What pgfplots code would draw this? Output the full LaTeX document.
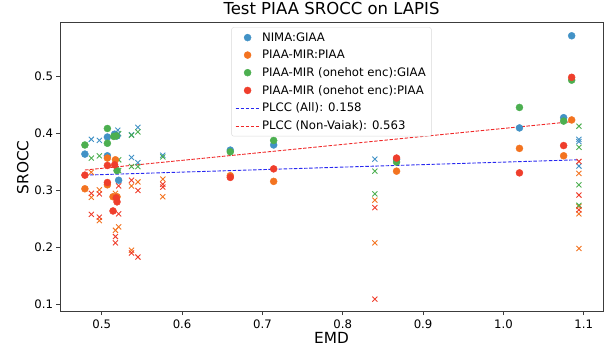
\documentclass[border=0pt]{standalone}
\usepackage{fontspec}
\setmainfont{DejaVu Sans}
\usepackage{pgfplots}
\pgfplotsset{compat=1.18}
\definecolor{cblue}{RGB}{66,146,198}
\definecolor{corange}{RGB}{243,115,32}
\definecolor{cgreen}{RGB}{76,175,80}
\definecolor{cred}{RGB}{239,62,44}
\definecolor{spine}{RGB}{60,60,60}
\definecolor{lblue}{RGB}{40,40,240}
\definecolor{lred}{RGB}{240,40,40}
\begin{document}
\begin{tikzpicture}
\begin{axis}[
  name=ax,
  scale only axis, width=543bp, height=289bp,
  xmin=0.448, xmax=1.124, ymin=0.0869, ymax=0.595,
  xtick={0.5,0.6,0.7,0.8,0.9,1.0,1.1},
  xticklabels={0.5,0.6,0.7,0.8,0.9,1.0,1.1},
  ytick={0.1,0.2,0.3,0.4,0.5},
  yticklabels={0.1,0.2,0.3,0.4,0.5},
  tick pos=left, tick align=outside,
  major tick length=3.5bp,
  every tick/.style={spine, line width=0.8bp},
  axis line style={spine, line width=0.8bp},
  ticklabel style={font=\fontsize{11.7bp}{14bp}\selectfont},
  xticklabel style={yshift=-1bp},
  title={Test PIAA SROCC on LAPIS},
  title style={font=\fontsize{16.5bp}{19bp}\selectfont, yshift=-2bp},
  xlabel={EMD}, ylabel={SROCC},
  label style={font=\fontsize{15.3bp}{18bp}\selectfont},
  xlabel style={yshift=3bp},
  ylabel style={yshift=-1bp},
  legend style={at={(0.5,0.984)}, anchor=north, draw=black!15, rounded corners=2bp,
    font=\fontsize{11.7bp}{14bp}\selectfont, row sep=3.4bp,
    inner xsep=3.5bp, inner ysep=3bp},
  legend cell align=left,
  legend image code/.code={\draw[mark repeat=2,mark phase=2,#1] plot coordinates {(0bp,0bp)(12bp,0bp)(24bp,0bp)};},
  clip=false,
]
% x markers (not in legend)
\addplot[only marks, mark=x, mark size=3.6bp, color=cblue, line width=0.9bp, forget plot] coordinates {
(0.487,0.390)(0.497,0.388)(0.520,0.406)(0.537,0.398)(0.545,0.411)(0.537,0.358)(0.545,0.349)(0.576,0.362)(0.840,0.355)(1.094,0.390)(1.094,0.386)(1.094,0.343)};
\addplot[only marks, mark=x, mark size=3.6bp, color=corange, line width=0.9bp, forget plot] coordinates {
(0.487,0.332)(0.487,0.288)(0.497,0.301)(0.497,0.247)(0.517,0.295)(0.521,0.236)(0.517,0.230)(0.537,0.308)(0.545,0.315)(0.537,0.195)(0.576,0.320)(0.576,0.289)(0.840,0.283)(0.840,0.208)(1.094,0.330)(1.094,0.272)(1.094,0.259)(1.094,0.198)};
\addplot[only marks, mark=x, mark size=3.6bp, color=cgreen, line width=0.9bp, forget plot] coordinates {
(0.487,0.357)(0.497,0.361)(0.521,0.400)(0.521,0.354)(0.521,0.335)(0.537,0.397)(0.545,0.403)(0.537,0.342)(0.545,0.342)(0.576,0.359)(0.840,0.334)(0.840,0.294)(1.094,0.413)(1.094,0.376)(1.094,0.310)(1.094,0.274)};
\addplot[only marks, mark=x, mark size=3.6bp, color=cred, line width=0.9bp, forget plot] coordinates {
(0.487,0.295)(0.487,0.258)(0.497,0.294)(0.497,0.253)(0.521,0.308)(0.521,0.259)(0.517,0.219)(0.517,0.208)(0.537,0.318)(0.545,0.300)(0.537,0.190)(0.545,0.183)(0.576,0.311)(0.576,0.306)(0.840,0.270)(0.840,0.109)(1.094,0.351)(1.094,0.292)(1.094,0.266)};
% circles
\addplot[only marks, mark=*, mark size=3.5bp, color=cblue] coordinates {
(0.479,0.364)(0.507,0.394)(0.507,0.361)(0.516,0.399)(0.519,0.396)(0.521,0.318)(0.660,0.371)(0.714,0.380)(0.867,0.355)(1.020,0.410)(1.075,0.428)(1.085,0.572)};
\addlegendentry{NIMA:GIAA}
\addplot[only marks, mark=*, mark size=3.5bp, color=corange] coordinates {
(0.479,0.303)(0.507,0.357)(0.507,0.310)(0.517,0.354)(0.514,0.289)(0.519,0.289)(0.660,0.326)(0.714,0.316)(0.867,0.334)(1.020,0.374)(1.075,0.361)(1.085,0.424)};
\addlegendentry{PIAA-MIR:PIAA}
\addplot[only marks, mark=*, mark size=3.5bp, color=cgreen] coordinates {
(0.479,0.380)(0.507,0.409)(0.507,0.383)(0.515,0.395)(0.518,0.396)(0.519,0.335)(0.660,0.368)(0.714,0.388)(0.867,0.350)(1.020,0.446)(1.075,0.422)(1.085,0.494)};
\addlegendentry{PIAA-MIR (onehot enc):GIAA}
\addplot[only marks, mark=*, mark size=3.5bp, color=cred] coordinates {
(0.479,0.327)(0.507,0.344)(0.507,0.314)(0.516,0.345)(0.519,0.280)(0.514,0.264)(0.518,0.287)(0.660,0.323)(0.714,0.338)(0.867,0.357)(1.020,0.331)(1.075,0.379)(1.085,0.499)};
\addlegendentry{PIAA-MIR (onehot enc):PIAA}
\addplot[color=lblue, draw=lblue, line width=0.9bp, dash pattern=on 3.5bp off 1.6bp, mark=none,
  legend image post style={draw=lblue}] coordinates {(0.479,0.327)(1.094,0.354)};
\addlegendentry{PLCC (All): 0.158}
\addplot[color=lred, draw=lred, line width=0.9bp, dash pattern=on 3.5bp off 1.6bp, mark=none,
  legend image post style={draw=lred}] coordinates {(0.479,0.336)(1.085,0.421)};
\addlegendentry{PLCC (Non-Vaiak): 0.563}
\end{axis}
\path (ax.south west) ++(-60bp,-39bp) coordinate (bbA);
\path (ax.north east) ++(2bp,22.7bp) coordinate (bbB);
\pgfresetboundingbox
\path (bbA) rectangle (bbB);
\end{tikzpicture}
\end{document}
